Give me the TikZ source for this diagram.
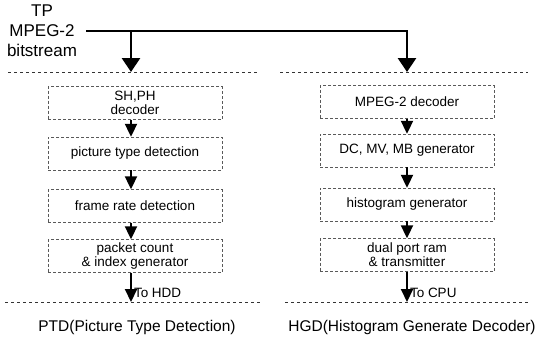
\documentclass[tikz,border=0pt]{standalone}
\usepackage{fontspec}
\setmainfont{Liberation Sans}
\usetikzlibrary{arrows.meta,positioning}

\begin{document}
\begin{tikzpicture}[x=1pt,y=-1pt,font=\fontsize{13.5}{14}\selectfont,block/.style={draw=black!65,densely dashed,thin,align=center,minimum width=174pt,minimum height=33pt,inner sep=2pt},arr/.style={-{Triangle[length=13pt,width=12pt]},line width=2pt},bigarr/.style={-{Triangle[length=14pt,width=18pt]},line width=2.8pt},frame/.style={dashed,thin,black!80},caption/.style={font=\fontsize{15.5}{17}\selectfont}]
\useasboundingbox (0,0) rectangle (551,341);
\node[align=center, font=\fontsize{17}{20}\selectfont] (tp) at (42,31){TP\\MPEG-2\\bitstream};
% PTD column
\node[block] (shph) at (135,103){SH,PH\\decoder};
\node[block] (ptype) at (135,153.5){picture type detection};
\node[block] (frate) at (135,206){frame rate detection};
\node[block] (pkt) at (135,256){packet count\\\& index generator};
% HGD column
\node[block] (mdec) at (407,102){MPEG-2 decoder};
\node[block] (dcmv) at (407,150.5){DC, MV, MB generator};
\node[block] (hist) at (407,204.5){histogram generator};
\node[block] (dual) at (407,255){dual port ram\\\& transmitter};
\coordinate (ptdtop) at (131,72);\coordinate (hgdtop) at (407,72);
\coordinate (ptdbot) at (131,302);\coordinate (hgdbot) at (407,302);
\draw[frame] (8,72) -- (258,72);\draw[frame] (280,72) -- (528,72);
\draw[frame] (5,302) -- (260,302);\draw[frame] (285,302) -- (530,302);
\draw[bigarr] ([xshift=6pt]tp.east) -| (hgdtop);\draw[bigarr] (tp.east -| ptdtop) -- (ptdtop);
\draw[arr] (shph.south -| ptdtop) -- (ptype.north -| ptdtop);\draw[arr] (ptype.south -| ptdtop) -- (frate.north -| ptdtop);\draw[arr] (frate.south -| ptdtop) -- (pkt.north -| ptdtop);
\draw[arr] (pkt.south -| ptdtop) -- node[pos=0.7, right, inner sep=2pt] {To HDD} (ptdbot);
\draw[arr] (mdec) -- (dcmv);\draw[arr] (dcmv) -- (hist);\draw[arr] (hist) -- (dual);
\draw[arr] (dual) -- node[pos=0.7, right, inner sep=2pt] {To CPU} (hgdbot);
\node[caption] (ptd) at (137,327){PTD(Picture Type Detection)};
\node[caption] (hgd) at (412,327){HGD(Histogram Generate Decoder)};
\end{tikzpicture}
\end{document}
